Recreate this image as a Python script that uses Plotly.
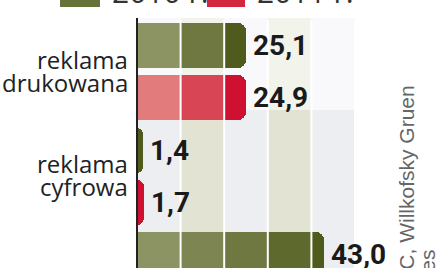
import plotly.graph_objects as go

# ---- data ----
categories = [["reklama", "drukowana"], ["reklama", "cyfrowa"], ["wpływy"]]
years = ["2010 r.", "2011 r."]
values_2010 = [25.1, 1.4, 43.0]
values_2011 = [24.9, 1.7, None]
source_lines = ["Źródło: PwC, Willkofsky Gruen", "Associates"]
grid_step = 10
grid_max = 50

# ---- style ----
W, H = 439, 268
px_per_unit = 4.36
x_zero_px = 137
slot_px = 52.25
first_slot_center_px = 45.5

green_light, green_dark = (0x8c, 0x94, 0x64), (0x4f, 0x5b, 0x1c)
red_light, red_dark = (0xe2, 0x7c, 0x7c), (0xcf, 0x10, 0x30)


def lerp(c1, c2, t):
    return "rgb(%d,%d,%d)" % tuple(round(a + (b - a) * t) for a, b in zip(c1, c2))


def fmt(v):
    return ("%.1f" % v).replace(".", ",")


x_range = [-x_zero_px / px_per_unit, (W - x_zero_px) / px_per_unit]
y_top = -first_slot_center_px / slot_px
y_bottom = (H - first_slot_center_px) / slot_px

bars = []  # (slot, value, light, dark)
for i, (a, b) in enumerate(zip(values_2010, values_2011)):
    if a is not None:
        bars.append((2 * i, a, green_light, green_dark))
    if b is not None:
        bars.append((2 * i + 1, b, red_light, red_dark))

n_cells = grid_max // grid_step
fig = go.Figure()
for k in range(n_cells):
    xs, ys, cols = [], [], []
    for slot, v, lc, dc in bars:
        seg = min(grid_step, v - grid_step * k)
        n = int(-(-v // grid_step))
        if seg <= 0:
            continue
        t = 1.0 if n == 1 else k / (n - 1)
        xs.append(seg)
        ys.append(slot)
        cols.append(lerp(lc, dc, t))
    if xs:
        fig.add_trace(go.Bar(x=xs, y=ys, orientation="h", width=45 / slot_px,
                             marker=dict(color=cols, line=dict(width=0)),
                             hoverinfo="skip", showlegend=False))

# background bands: faint near top, stronger lower
top_paper = 1 - 18 / H
mid_paper = 1 - 110 / H
for k in range(n_cells):
    fig.add_shape(type="rect", xref="x", yref="paper", x0=k * grid_step, x1=(k + 1) * grid_step,
                  y0=mid_paper, y1=top_paper, layer="below", line=dict(width=0),
                  fillcolor="#f9f9fb" if k % 2 == 0 else "#f2f3ea")
    fig.add_shape(type="rect", xref="x", yref="paper", x0=k * grid_step, x1=(k + 1) * grid_step,
                  y0=0, y1=mid_paper, layer="below", line=dict(width=0),
                  fillcolor="#eceef2" if k % 2 == 0 else "#e2e3d3")
for k in range(1, n_cells + 1):
    fig.add_shape(type="line", xref="x", yref="paper", x0=k * grid_step, x1=k * grid_step,
                  y0=0, y1=1 - 20 / H, layer="above", line=dict(color="white", width=2))
fig.add_shape(type="line", xref="x", yref="paper", x0=0, x1=0, y0=0, y1=top_paper,
              layer="above", line=dict(color="#222222", width=2))

# value labels
for slot, v, lc, dc in bars:
    fig.add_annotation(x=v, y=slot, xref="x", yref="y", text="<b>%s</b>" % fmt(v),
                       showarrow=False, xanchor="left", yanchor="middle", xshift=5, yshift=0,
                       font=dict(family="Roboto, sans-serif", size=28, color="#1a1a1a"))

# category labels
for i, lines in enumerate(categories):
    center = 2 * i + 0.5
    offsets = [-0.24, 0.2]
    for j, line in enumerate(lines):
        fig.add_annotation(x=-7 / px_per_unit, y=center + offsets[j], xref="x", yref="y",
                           text=line, showarrow=False, xanchor="right", yanchor="middle",
                           font=dict(family="Open Sans, DejaVu Sans, sans-serif", size=24,
                                     color="#222222"))

# legend (cut at top)
leg = [(60, 100, 110, years[0], lerp(green_light, green_dark, 0.6)),
       (207, 245, 255, years[1], lerp(red_light, red_dark, 0.8))]
for x0, x1, tx, label, col in leg:
    fig.add_shape(type="rect", xref="paper", yref="paper", x0=x0 / W, x1=x1 / W,
                  y0=1 - 7 / H, y1=1.1, line=dict(width=0), fillcolor=col, layer="above")
    fig.add_annotation(x=tx / W, y=1 - 14 / H, xref="paper", yref="paper", text=label,
                       showarrow=False, xanchor="left", yanchor="bottom",
                       font=dict(family="Open Sans, DejaVu Sans, sans-serif", size=30,
                                 color="#333333"))

# source (rotated), positioned by centre
src_size = 21
src_pos = [(406, 228), (427, 300)]
for (sx, sy), line in zip(src_pos, source_lines):
    fig.add_annotation(x=sx / W, y=1 - sy / H, xref="paper", yref="paper", text=line,
                       showarrow=False, textangle=-90, xanchor="center", yanchor="middle",
                       font=dict(family="Liberation Sans, Arial, sans-serif", size=src_size,
                                 color="#666666"))

fig.update_layout(
    width=W, height=H, margin=dict(l=0, r=0, t=0, b=0),
    paper_bgcolor="white", plot_bgcolor="white",
    barmode="stack", barcornerradius=8, bargap=0,
    xaxis=dict(range=x_range, visible=False, fixedrange=True),
    yaxis=dict(range=[y_bottom, y_top], visible=False, fixedrange=True),
    showlegend=False,
)
fig.write_html("out.html")
